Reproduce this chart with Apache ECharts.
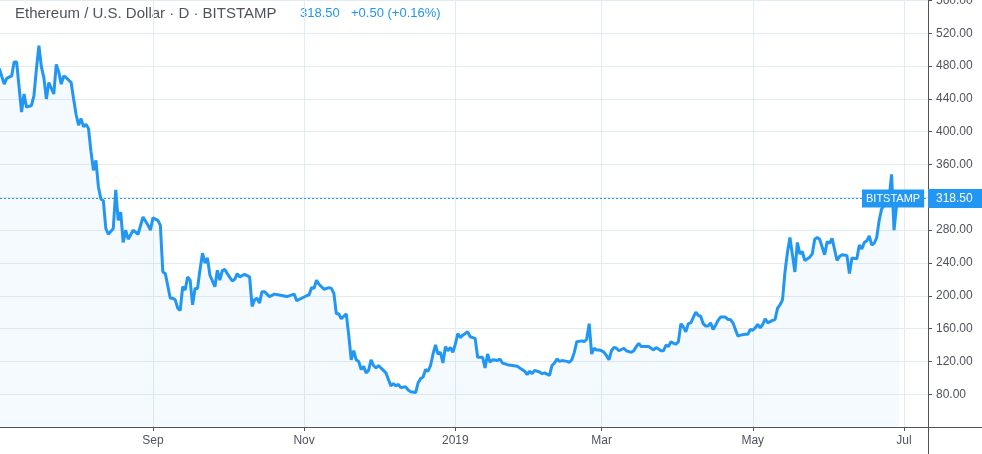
<!DOCTYPE html>
<html>
<head>
<meta charset="utf-8">
<script src="https://cdn.jsdelivr.net/npm/echarts@6/dist/echarts.min.js"></script>
<style>
  html, body { margin: 0; padding: 0; background: #fff; }
  #chart { width: 982px; height: 454px; }
</style>
</head>
<body>
<div id="chart"></div>
<script>
// daily closes (ETH/USD, Bitstamp)
var dates2018 = [
  "2018-07-01","2018-07-03","2018-07-04","2018-07-06","2018-07-07","2018-07-08","2018-07-10","2018-07-11",
  "2018-07-12","2018-07-14","2018-07-15","2018-07-16","2018-07-17","2018-07-18","2018-07-19","2018-07-20",
  "2018-07-21","2018-07-23","2018-07-24","2018-07-25","2018-07-26","2018-07-27","2018-07-28","2018-07-30",
  "2018-07-31","2018-08-01","2018-08-02","2018-08-03","2018-08-04","2018-08-05","2018-08-06","2018-08-07",
  "2018-08-08","2018-08-09","2018-08-10","2018-08-11","2018-08-12","2018-08-13","2018-08-14","2018-08-16",
  "2018-08-17","2018-08-18","2018-08-19","2018-08-20","2018-08-21","2018-08-22","2018-08-24","2018-08-26",
  "2018-08-28","2018-08-30","2018-08-31","2018-09-01","2018-09-03","2018-09-04","2018-09-05","2018-09-06",
  "2018-09-08","2018-09-09","2018-09-10","2018-09-11","2018-09-12","2018-09-13","2018-09-14","2018-09-15",
  "2018-09-16","2018-09-17","2018-09-18","2018-09-19","2018-09-20","2018-09-21","2018-09-22","2018-09-23",
  "2018-09-24","2018-09-26","2018-09-27","2018-09-28","2018-09-29","2018-09-30","2018-10-01","2018-10-03",
  "2018-10-04","2018-10-05","2018-10-06","2018-10-08","2018-10-10","2018-10-11","2018-10-12","2018-10-13",
  "2018-10-14","2018-10-15","2018-10-16","2018-10-18","2018-10-20","2018-10-22","2018-10-25","2018-10-28",
  "2018-10-29","2018-10-31","2018-11-02","2018-11-03","2018-11-04","2018-11-05","2018-11-06","2018-11-07",
  "2018-11-09","2018-11-11","2018-11-12","2018-11-13","2018-11-14","2018-11-15","2018-11-16","2018-11-17",
  "2018-11-18","2018-11-19","2018-11-20","2018-11-21","2018-11-22","2018-11-23","2018-11-24","2018-11-25",
  "2018-11-26","2018-11-27","2018-11-28","2018-11-29","2018-11-30","2018-12-01","2018-12-02","2018-12-03",
  "2018-12-04","2018-12-06","2018-12-07","2018-12-08","2018-12-09","2018-12-10","2018-12-12","2018-12-13",
  "2018-12-14","2018-12-16","2018-12-17","2018-12-18","2018-12-19","2018-12-20","2018-12-21","2018-12-22",
  "2018-12-23","2018-12-24","2018-12-25","2018-12-26","2018-12-27","2018-12-28","2018-12-29","2018-12-30",
  "2018-12-31"
];
var closes2018 = [
  477, 458, 465, 468, 485, 485, 424, 446,
  430, 432, 444, 477, 505, 479, 466, 440,
  460, 446, 482, 473, 458, 468, 466, 460,
  440, 421, 408, 416, 406, 409, 404, 376,
  353, 365, 333, 318, 316, 282, 275, 282,
  329, 292, 302, 265, 280, 269, 280, 275,
  296, 286, 280, 295, 292, 286, 229, 227,
  197, 197, 195, 185, 182, 211, 207, 223,
  219, 189, 209, 209, 232, 252, 240, 246,
  225, 211, 231, 219, 231, 232, 227, 218,
  220, 227, 223, 226, 223, 187, 195, 197,
  191, 205, 205, 199, 202, 201, 199, 202,
  194, 197, 200, 201, 210, 209, 219, 214,
  208, 210, 209, 203, 178, 178, 172, 175,
  178, 152, 122, 133, 122, 120, 110, 114,
  106, 109, 122, 115, 112, 115, 112, 109,
  106, 90, 93, 90, 92, 88, 89, 85,
  83, 82, 94, 99, 101, 110, 108, 115,
  129, 140, 129, 131, 118, 138, 133, 137,
  131
];
var dates2019 = [
  "2019-01-01","2019-01-02","2019-01-03","2019-01-04","2019-01-05","2019-01-06","2019-01-07","2019-01-08",
  "2019-01-09","2019-01-10","2019-01-12","2019-01-13","2019-01-14","2019-01-15","2019-01-16","2019-01-18",
  "2019-01-19","2019-01-20","2019-01-22","2019-01-24","2019-01-26","2019-01-27","2019-01-29","2019-01-30",
  "2019-01-31","2019-02-01","2019-02-02","2019-02-04","2019-02-05","2019-02-06","2019-02-08","2019-02-09",
  "2019-02-10","2019-02-11","2019-02-12","2019-02-13","2019-02-15","2019-02-16","2019-02-17","2019-02-18",
  "2019-02-19","2019-02-21","2019-02-22","2019-02-23","2019-02-24","2019-02-25","2019-02-26","2019-02-27",
  "2019-02-28","2019-03-01","2019-03-02","2019-03-03","2019-03-04","2019-03-05","2019-03-06","2019-03-07",
  "2019-03-08","2019-03-10","2019-03-11","2019-03-13","2019-03-14","2019-03-15","2019-03-16","2019-03-17",
  "2019-03-19","2019-03-20","2019-03-21","2019-03-22","2019-03-23","2019-03-25","2019-03-26","2019-03-27",
  "2019-03-28","2019-03-29","2019-03-30","2019-03-31","2019-04-01","2019-04-02","2019-04-03","2019-04-04",
  "2019-04-05","2019-04-06","2019-04-08","2019-04-09","2019-04-10","2019-04-11","2019-04-12","2019-04-13",
  "2019-04-14","2019-04-15","2019-04-16","2019-04-17","2019-04-18","2019-04-20","2019-04-21","2019-04-22",
  "2019-04-23","2019-04-24","2019-04-25","2019-04-26","2019-04-28","2019-04-29","2019-04-30","2019-05-01",
  "2019-05-02","2019-05-03","2019-05-04","2019-05-05","2019-05-06","2019-05-07","2019-05-09","2019-05-10",
  "2019-05-11","2019-05-12","2019-05-13","2019-05-14","2019-05-15","2019-05-16","2019-05-17","2019-05-18",
  "2019-05-19","2019-05-20","2019-05-21","2019-05-22","2019-05-24","2019-05-25","2019-05-26","2019-05-27",
  "2019-05-28","2019-05-30","2019-05-31","2019-06-01","2019-06-02","2019-06-04","2019-06-05","2019-06-06",
  "2019-06-08","2019-06-09","2019-06-10","2019-06-12","2019-06-13","2019-06-14","2019-06-15","2019-06-16",
  "2019-06-17","2019-06-18","2019-06-19","2019-06-20","2019-06-21","2019-06-22","2019-06-23","2019-06-24",
  "2019-06-25","2019-06-26","2019-06-27","2019-06-28","2019-06-29"
];
var closes2019 = [
  141, 154, 149, 152, 154, 156, 150, 149,
  148, 125, 125, 112, 129, 119, 122, 121,
  123, 118, 116, 115, 114, 112, 108, 104,
  108, 105, 109, 107, 105, 106, 103, 115,
  118, 123, 120, 121, 120, 119, 122, 131,
  144, 145, 144, 147, 166, 129, 136, 134,
  134, 133, 131, 127, 122, 133, 137, 136,
  133, 136, 133, 131, 133, 138, 142, 138,
  138, 138, 136, 134, 137, 133, 133, 140,
  138, 144, 142, 141, 144, 166, 162, 156,
  166, 167, 180, 176, 175, 166, 163, 163,
  167, 159, 164, 170, 174, 174, 171, 171,
  167, 159, 151, 152, 153, 153, 159, 158,
  161, 165, 161, 165, 172, 167, 170, 171,
  185, 189, 195, 229, 253, 271, 250, 229,
  265, 251, 254, 243, 247, 251, 269, 271,
  269, 250, 266, 264, 270, 243, 248, 250,
  249, 227, 246, 245, 262, 257, 265, 267,
  273, 262, 264, 271, 292, 306, 310, 312,
  318, 348, 280, 310, 318.5
];

var priceTicks = [80, 120, 160, 200, 240, 280, 320, 360, 400, 440, 480, 520, 560];
var xTickDates = ["2018-09-01", "2018-11-01", "2019-01-01", "2019-03-01", "2019-05-01", "2019-07-01"];
var xTickLabels = ["Sep", "Nov", "2019", "Mar", "May", "Jul"];

var titleText = "Ethereum / U.S. Dollar \u00b7 D \u00b7 BITSTAMP";
var lastPrice = 318.5;
var lastChange = "+0.50 (+0.16%)";
var exchange = "BITSTAMP";

var BLUE = "#2196f3";
var TEXT = "#50535e";
var GRID = "#e1ecf2";
var DAY = 86400000;

function toTime(s) {
  var p = s.split("-");
  return new Date(+p[0], +p[1] - 1, +p[2]).getTime();
}

var allDates = dates2018.concat(dates2019);
var allCloses = closes2018.concat(closes2019);
var seriesData = allDates.map(function (d, i) { return [toTime(d), allCloses[i]]; });
var xTicks = xTickDates.map(toTime);

// visible window: starts right at Jul 1 2018, runs about ten days past Jul 1 2019
var xMin = toTime("2018-07-01") + 0.3 * DAY;
var xMax = toTime("2018-07-01") + 374.7 * DAY;

var chart = echarts.init(document.getElementById("chart"));

chart.setOption({
  animation: false,
  textStyle: { fontFamily: "Liberation Sans, Arial, sans-serif" },
  grid: { left: 0, right: 54, top: 0.5, bottom: 27, containLabel: false, outerBoundsMode: "none" },
  xAxis: {
    type: "value",
    min: xMin,
    max: xMax,
    axisLine: { show: true, lineStyle: { color: TEXT, width: 1 } },
    axisTick: { show: true, customValues: xTicks, length: 4, lineStyle: { color: TEXT } },
    axisLabel: {
      customValues: xTicks,
      color: TEXT,
      fontSize: 12,
      margin: 8,
      formatter: function (v) {
        for (var i = 0; i < xTicks.length; i++) {
          if (Math.abs(xTicks[i] - v) < DAY / 2) return xTickLabels[i];
        }
        return "";
      }
    },
    splitLine: { show: true, lineStyle: { color: GRID, width: 1 } }
  },
  yAxis: {
    type: "value",
    position: "right",
    min: 40,
    max: 560,
    interval: 40,
    axisLine: { show: true, lineStyle: { color: TEXT, width: 1 } },
    axisTick: { show: true, length: 4, lineStyle: { color: TEXT } },
    axisLabel: {
      color: TEXT,
      fontSize: 12,
      margin: 8,
      showMinLabel: false,
      verticalAlignMaxLabel: "middle",
      formatter: function (v) { return priceTicks.indexOf(v) >= 0 ? v.toFixed(2) : ""; }
    },
    splitLine: { show: true, lineStyle: { color: GRID, width: 1 } }
  },
  graphic: [
    { type: "text", left: 15, top: 6, style: { text: titleText, fill: TEXT, font: "15px Liberation Sans, Arial, sans-serif" } },
    { type: "text", left: 300, top: 7, style: { text: lastPrice.toFixed(2), fill: BLUE, font: "13px Liberation Sans, Arial, sans-serif" } },
    { type: "text", left: 351, top: 7, style: { text: lastChange, fill: BLUE, font: "13px Liberation Sans, Arial, sans-serif" } },
    // frame lines continuing past the plot
    { type: "line", shape: { x1: 928, y1: 427.5, x2: 982, y2: 427.5 }, style: { stroke: TEXT, lineWidth: 1 } },
    { type: "line", shape: { x1: 928.5, y1: 427, x2: 928.5, y2: 454 }, style: { stroke: TEXT, lineWidth: 1 } }
  ],
  series: [{
    type: "line",
    data: seriesData,
    showSymbol: false,
    symbol: "none",
    lineStyle: { color: BLUE, width: 3 },
    areaStyle: { color: "rgba(33,150,243,0.06)" },
    markLine: {
      silent: true,
      symbol: ["none", "none"],
      animation: false,
      lineStyle: { color: BLUE, type: [2, 2], width: 1 },
      data: [
        {
          yAxis: lastPrice,
          label: {
            show: true, position: "end", distance: 0, formatter: lastPrice.toFixed(2),
            color: "#fff", backgroundColor: BLUE, fontSize: 12, padding: [4, 10, 3, 8]
          }
        },
        {
          yAxis: lastPrice,
          label: {
            show: true, position: "end", distance: -66, formatter: exchange,
            color: "#fff", backgroundColor: BLUE, fontSize: 11, padding: [4, 4, 3, 4]
          }
        }
      ]
    }
  }]
});
</script>
</body>
</html>
